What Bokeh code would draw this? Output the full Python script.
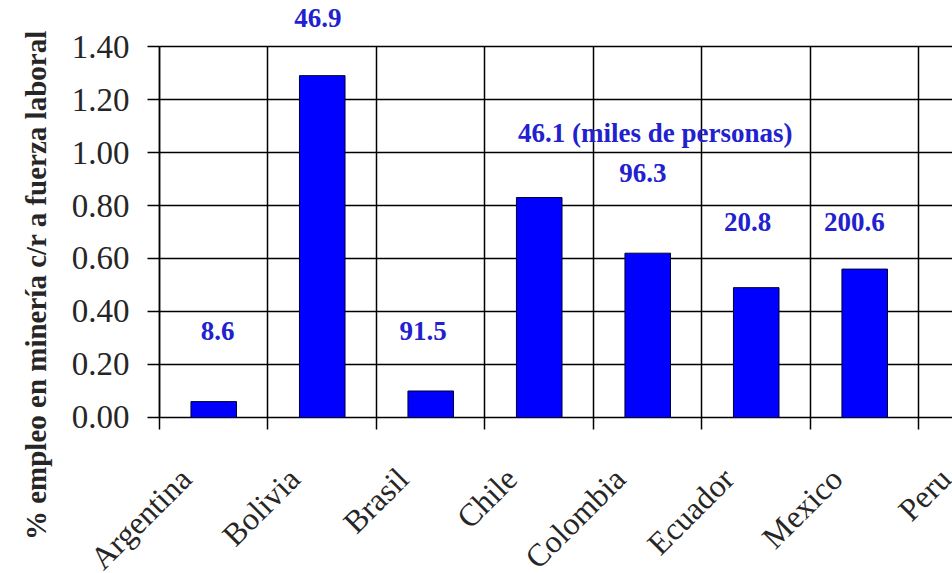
import math
from bokeh.plotting import figure
from bokeh.models import (Range1d, FixedTicker, ColumnDataSource, LabelSet, Label,
                          NumeralTickFormatter)
from bokeh.embed import file_html
from bokeh.resources import INLINE

# ---- data ----
countries = ["Argentina", "Bolivia", "Brasil", "Chile", "Colombia", "Ecuador", "Mexico", "Peru"]
# % employment in mining relative to labour force (Peru's bar lies outside the visible picture)
pct = [0.06, 1.29, 0.10, 0.83, 0.62, 0.49, 0.56]
# mining employment, thousands of persons
miles = [8.6, 46.9, 91.5, 46.1, 96.3, 20.8, 200.6]
y_ticks = [0.0, 0.2, 0.4, 0.6, 0.8, 1.0, 1.2, 1.4]

# ---- layout of the value labels (offset from category centre, height in axis units) ----
label_dx = [0.035, -0.04, -0.07, 1.07, -0.045, -0.08, -0.095]
label_y = [0.328, 1.506, 0.328, 1.072, 0.921, 0.736, 0.736]

n = len(pct)
centers = [i + 0.5 for i in range(n)]
texts = ["%.1f" % v for v in miles]
texts[3] = texts[3] + " (miles de personas)"

SERIF = "Liberation Serif"
TXT = "#262626"

# the frame covers the whole canvas; the value axis sits at x = 0
x_lo, x_hi = -1.4654, 7.309
y_lo, y_hi = -0.5887, 1.5736
p = figure(width=952, height=573, x_range=Range1d(x_lo, x_hi), y_range=Range1d(y_lo, y_hi),
           output_backend="svg", toolbar_location=None, x_axis_location=None,
           min_border_left=0, min_border_right=0, min_border_top=0, min_border_bottom=0)
p.outline_line_color = None
p.background_fill_color = "white"
p.border_fill_color = "white"

src = ColumnDataSource(dict(x=centers, top=pct))
p.vbar(x="x", top="top", bottom=0, width=0.42, source=src,
       fill_color="#0000FF", line_color="#000033", line_width=1)

lab_src = ColumnDataSource(dict(x=[c + d for c, d in zip(centers, label_dx)], y=label_y, t=texts))
p.add_layout(LabelSet(x="x", y="y", text="t", source=lab_src, text_align="center",
                      text_baseline="middle", text_font=SERIF, text_font_style="bold",
                      text_font_size="27px", text_color="#2121cf"))

# y axis
p.yaxis.fixed_location = 0
p.yaxis.ticker = FixedTicker(ticks=y_ticks)
p.yaxis.bounds = (y_ticks[0], y_ticks[-1])
p.yaxis.formatter = NumeralTickFormatter(format="0.00")
p.yaxis.major_label_text_font = SERIF
p.yaxis.major_label_text_font_size = "33px"
p.yaxis.major_label_text_color = TXT
p.yaxis.major_tick_out = 12
p.yaxis.major_tick_in = 0
p.yaxis.minor_tick_line_color = None
p.yaxis.major_label_standoff = 18
p.yaxis.axis_line_color = "black"
p.yaxis.axis_line_width = 1.5
p.yaxis.major_tick_line_width = 1.5

# y axis title
p.add_layout(Label(x=0, y=0.513, text="%  empleo en minería c/r a fuerza laboral",
                   angle=math.pi / 2, text_align="center", text_baseline="middle",
                   x_offset=-123, text_font=SERIF, text_font_style="bold",
                   text_font_size="29px", text_color=TXT))

# category boundaries: grid lines, reaching a little below zero as tick marks
bounds = list(range(len(countries) + 1))
p.xgrid.ticker = FixedTicker(ticks=bounds)
p.xgrid.cross_bounds = (-0.0453, y_ticks[-1])
p.xgrid.grid_line_color = "black"
p.xgrid.grid_line_width = 1.5
p.ygrid.cross_bounds = (0, len(countries))
p.ygrid.grid_line_color = "black"
p.ygrid.grid_line_width = 1.5

# category names, rotated, ending left of and below each category centre
cat_src = ColumnDataSource(dict(x=[i + 0.5 for i in range(len(countries))],
                                y=[0] * len(countries), t=countries))
p.add_layout(LabelSet(x="x", y="y", text="t", source=cat_src, angle=math.pi / 4,
                      text_align="right", text_baseline="middle", x_offset=-28, y_offset=-56,
                      text_font=SERIF, text_font_size="32px", text_color=TXT))

open("out.html", "w").write(file_html(p, INLINE))
